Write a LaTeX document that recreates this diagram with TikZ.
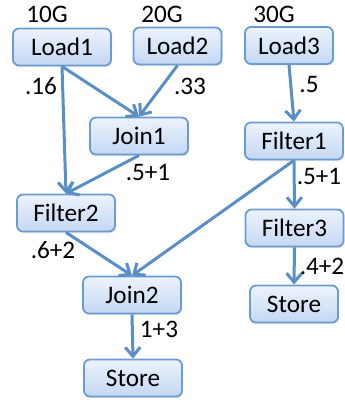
\documentclass[tikz,border=0pt]{standalone}
\usepackage{fontspec}
\setmainfont{Carlito}
\usepackage{xcolor}
\usepackage{tikz}
\usetikzlibrary{positioning,arrows.meta,shadows}
\definecolor{OpBorder}{RGB}{106,155,211}
\definecolor{OpTop}{RGB}{236,243,252}
\definecolor{OpBottom}{RGB}{196,216,243}
\definecolor{FlowBlue}{RGB}{90,143,198}

\begin{document}
\begin{tikzpicture}[x=0.5pt, y=-0.5pt,
                % operator boxes
                opnode/.style={rectangle, rounded corners=3pt, draw=OpBorder, line width=0.9pt, top color=OpTop, bottom color=OpBottom, text=black, font=\fontsize{12.6}{14}\selectfont, minimum width=49pt, minimum height=18.5pt, inner sep=0pt, drop shadow={opacity=0.2, shadow xshift=0.6pt, shadow yshift=-0.8pt}},
                narrownode/.style={opnode, minimum width=44pt},
                % data flow
                arrowedge/.style={-{Straight Barb[length=4.5pt, width=7.5pt, line width=1.5pt]}, draw=FlowBlue, line width=1.5pt},
                % sizes and costs
                costlabel/.style={text=black, font=\fontsize{12.6}{14}\selectfont, inner sep=1pt}
            ]
                \useasboundingbox (0,0) rectangle (344,402);

                % --- LOADS ---
                \node[opnode] (load1) at (62, 47) {Load1};
                \node[narrownode] (load2) at (177.5, 46) {Load2};
                \node[narrownode] (load3) at (289, 45.5) {Load3};

                % --- MIDDLE ---
                \node[opnode] (join1) at (139, 136) {Join1};
                \node[opnode] (filter1) at (294, 141) {Filter1};
                \node[opnode] (filter2) at (66, 213) {Filter2};
                \node[opnode] (filter3) at (294.5, 228) {Filter3};

                % --- BOTTOM ---
                \node[opnode] (join2) at (132, 295) {Join2};
                \node[opnode] (store1) at (133, 378) {Store};
                \node[narrownode] (store2) at (294, 304) {Store};

                % --- EDGES ---
                \draw[arrowedge] (load1.south) -- (filter2.north);
                \draw[arrowedge] (load1.south) -- (join1.north);
                \draw[arrowedge] (load2.south) -- (join1.north);
                \draw[arrowedge] (join1.south) -- (filter2.north);
                \draw[arrowedge] (load3.south) -- (filter1.north);
                \draw[arrowedge] (filter1.south) -- (join2.north);
                \draw[arrowedge] (filter1.south) -- (filter3.north);
                \draw[arrowedge] (filter2.south) -- (join2.north);
                \draw[arrowedge] (filter3.south) -- (store2.north);
                \draw[arrowedge] (join2.south) -- (store1.north);

                % --- LABELS ---
                \node[costlabel] (size1) at (47, 14) {10G};
                \node[costlabel] (size2) at (162, 14) {20G};
                \node[costlabel] (size3) at (274, 14) {30G};
                \node[costlabel] (c16) at (41, 86) {.16};
                \node[costlabel] (c33) at (190, 86) {.33};
                \node[costlabel] (c5) at (309, 85) {.5};
                \node[costlabel] (cj1) at (148, 172) {.5+1};
                \node[costlabel] (cf1) at (319, 176) {.5+1};
                \node[costlabel] (cf2) at (53, 250) {.6+2};
                \node[costlabel] (cf3) at (322, 266) {.4+2};
                \node[costlabel] (cj2) at (159, 329) {1+3};

            \end{tikzpicture}
\end{document}
